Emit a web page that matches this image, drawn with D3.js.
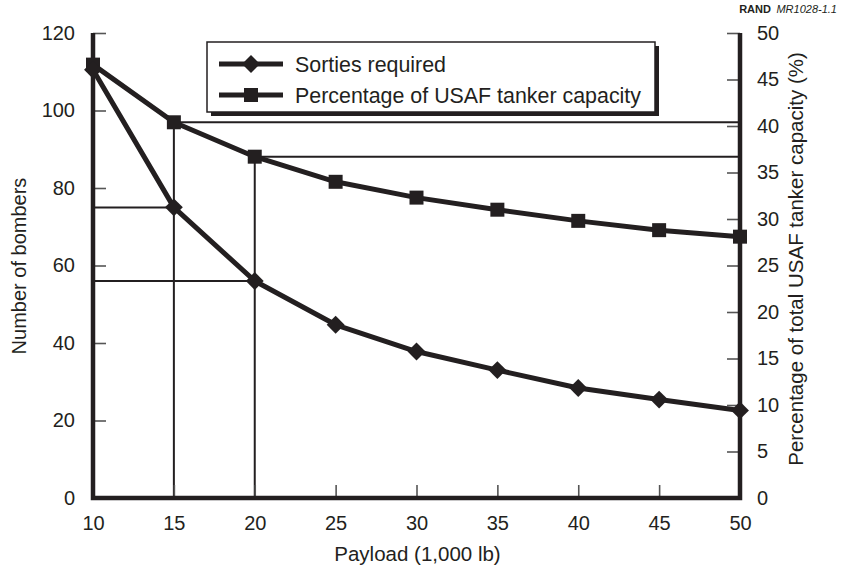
<!DOCTYPE html>
<html>
<head>
<meta charset="utf-8">
<script src="https://cdn.jsdelivr.net/npm/d3@7"></script>
<style>
  body { margin: 0; background: white; }
  text { font-family: "Liberation Sans", Arial, sans-serif; fill: #231f20; }
</style>
</head>
<body>
<svg id="chart"></svg>
<script>
"use strict";

// Payload in thousands of lb
const payload = [10, 15, 20, 25, 30, 35, 40, 45, 50];
// Number of bombers (left axis)
const sorties = [110.5, 75, 56, 44.7, 37.8, 33, 28.4, 25.4, 22.6];
// Percentage of total USAF tanker capacity (right axis)
const tankerPct = [46.6, 40.4, 36.7, 34.0, 32.3, 31.0, 29.8, 28.8, 28.1];

const xTicks = [10, 15, 20, 25, 30, 35, 40, 45, 50];
const leftTicks = [0, 20, 40, 60, 80, 100, 120];
const rightTicks = [0, 5, 10, 15, 20, 25, 30, 35, 40, 45, 50];
// payloads that get the read-off guide lines
const guidePayloads = [15, 20];

const legendItems = ["Sorties required", "Percentage of USAF tanker capacity"];

const width = 842, height = 577;
const margins = {top: 33, right: 102, bottom: 79, left: 93};
const plot_width = width - margins.left - margins.right;
const plot_height = height - margins.top - margins.bottom;
const ink = "#231f20";

const svg = d3.select("#chart")
    .attr("width", width)
    .attr("height", height);

svg.append("rect").attr("width", width).attr("height", height).attr("fill", "white");

const x_scale = d3.scaleLinear().domain([10, 50]).range([0, plot_width]);
const y_left = d3.scaleLinear().domain([0, 120]).range([plot_height, 0]);
const y_right = d3.scaleLinear().domain([0, 50]).range([plot_height, 0]);

const g = svg.append("g")
    .attr("transform", "translate(" + margins.left + "," + margins.top + ")");

// Guide lines from the curves to the axes
const guides = g.append("g").attr("stroke", ink).attr("stroke-width", 2).attr("fill", "none");
guidePayloads.forEach(function (p) {
    const i = payload.indexOf(p);
    const xp = x_scale(p);
    guides.append("line")
        .attr("x1", 0).attr("x2", xp)
        .attr("y1", y_left(sorties[i])).attr("y2", y_left(sorties[i]));
    guides.append("line")
        .attr("x1", xp).attr("x2", xp)
        .attr("y1", plot_height).attr("y2", y_right(tankerPct[i]));
    guides.append("line")
        .attr("x1", xp).attr("x2", plot_width)
        .attr("y1", y_right(tankerPct[i])).attr("y2", y_right(tankerPct[i]));
});

// Axes, ticks drawn inward
const x_axis = d3.axisBottom(x_scale).tickValues(xTicks).tickSize(-13).tickPadding(28).tickFormat(d3.format("d"));
const l_axis = d3.axisLeft(y_left).tickValues(leftTicks).tickSize(-13).tickPadding(18);
const r_axis = d3.axisRight(y_right).tickValues(rightTicks).tickSize(-13).tickPadding(17);

function styleAxis(sel) {
    sel.attr("font-size", 20).attr("font-family", "Liberation Sans, Arial, sans-serif");
    sel.select(".domain").remove();
    sel.selectAll(".tick line").attr("stroke", "#555").attr("stroke-width", 1.6);
    sel.selectAll(".tick text").attr("fill", ink);
}

g.append("g").attr("class", "x_axis")
    .attr("transform", "translate(0," + plot_height + ")")
    .call(x_axis).call(styleAxis);
g.append("g").attr("class", "y_axis")
    .call(l_axis).call(styleAxis);
g.append("g").attr("class", "y2_axis")
    .attr("transform", "translate(" + plot_width + ",0)")
    .call(r_axis).call(styleAxis);

g.select(".x_axis").selectAll(".tick text").attr("dy", "0.2em");
g.select(".y_axis").selectAll(".tick text").attr("text-anchor", "end");
g.select(".y2_axis").selectAll(".tick text").attr("text-anchor", "start");

// Heavy frame: left, bottom, right
g.append("path")
    .attr("d", "M0,0V" + plot_height + "H" + plot_width + "V0")
    .attr("fill", "none")
    .attr("stroke", ink)
    .attr("stroke-width", 4.5);

// Series
const sortiesLine = d3.line().x(function (d, i) { return x_scale(payload[i]); }).y(function (d) { return y_left(d); });
const pctLine = d3.line().x(function (d, i) { return x_scale(payload[i]); }).y(function (d) { return y_right(d); });

g.append("path").datum(tankerPct).attr("d", pctLine)
    .attr("fill", "none").attr("stroke", ink).attr("stroke-width", 5).attr("stroke-linejoin", "round");
g.append("path").datum(sorties).attr("d", sortiesLine)
    .attr("fill", "none").attr("stroke", ink).attr("stroke-width", 5).attr("stroke-linejoin", "round");

const diamond = d3.symbol().type(d3.symbolSquare).size(160);
const square = d3.symbol().type(d3.symbolSquare).size(196);

g.selectAll(".pct_pt").data(tankerPct).enter().append("path")
    .attr("class", "pct_pt")
    .attr("d", square)
    .attr("transform", function (d, i) { return "translate(" + x_scale(payload[i]) + "," + y_right(d) + ")"; })
    .attr("fill", ink);
g.selectAll(".sort_pt").data(sorties).enter().append("path")
    .attr("class", "sort_pt")
    .attr("d", diamond)
    .attr("transform", function (d, i) { return "translate(" + x_scale(payload[i]) + "," + y_left(d) + ") rotate(45)"; })
    .attr("fill", ink);

// Axis titles
svg.append("text")
    .attr("x", margins.left + plot_width / 2 + 1).attr("y", 561)
    .attr("text-anchor", "middle").attr("font-size", 20.5)
    .text("Payload (1,000 lb)");
svg.append("text")
    .attr("transform", "translate(26,266) rotate(-90)")
    .attr("text-anchor", "middle").attr("font-size", 20)
    .text("Number of bombers");
svg.append("text")
    .attr("transform", "translate(803,259) rotate(-90)")
    .attr("text-anchor", "middle").attr("font-size", 20.5)
    .text("Percentage of total USAF tanker capacity (%)");

// Legend with drop shadow
const legend = svg.append("g").attr("transform", "translate(207,42)");
legend.append("rect").attr("x", 4).attr("y", 4).attr("width", 448).attr("height", 70).attr("fill", ink);
legend.append("rect").attr("width", 448).attr("height", 70)
    .attr("fill", "white").attr("stroke", ink).attr("stroke-width", 1.5);
legendItems.forEach(function (label, i) {
    const cy = 22 + i * 31;
    const row = legend.append("g").attr("transform", "translate(0," + cy + ")");
    row.append("line").attr("x1", 12).attr("x2", 76).attr("y1", 0).attr("y2", 0)
        .attr("stroke", ink).attr("stroke-width", 5);
    row.append("path")
        .attr("d", i === 0 ? diamond : square)
        .attr("transform", "translate(44,0)" + (i === 0 ? " rotate(45)" : ""))
        .attr("fill", ink);
    row.append("text").attr("x", 88).attr("y", 0).attr("dy", "0.35em")
        .attr("font-size", 21.4).text(label);
});

// Source tag
const tag = svg.append("text").attr("x", 837).attr("y", 13).attr("text-anchor", "end").attr("font-size", 11);
tag.append("tspan").attr("font-weight", "bold").text("RAND");
tag.append("tspan").attr("font-style", "italic").text("\u2002MR1028-1.1");
</script>
</body>
</html>
